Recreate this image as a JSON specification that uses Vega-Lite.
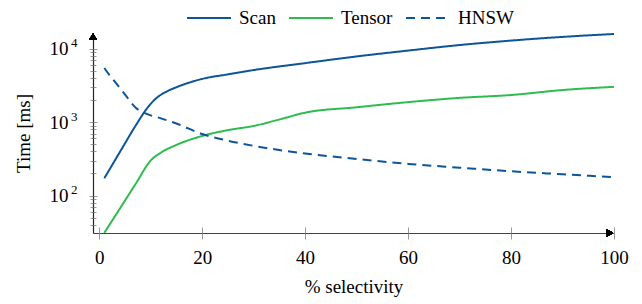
{
  "$schema": "https://vega.github.io/schema/vega-lite/v6.json",
  "width": 521,
  "height": 200,
  "autosize": "none",
  "padding": {"left": 93, "top": 33, "right": 28, "bottom": 71},
  "config": {
    "font": "Liberation Serif",
    "view": {"stroke": null},
    "axis": {"grid": false, "labelColor": "#000", "titleColor": "#000", "labelFont": "Liberation Serif", "titleFont": "Liberation Serif", "titleFontWeight": "normal"},
    "legend": {"labelFont": "Liberation Serif"}
  },
  "data": {"values": [
    {"x": 1, "series": "Scan", "t": 172},
    {"x": 4, "series": "Scan", "t": 390},
    {"x": 7, "series": "Scan", "t": 880},
    {"x": 9, "series": "Scan", "t": 1450},
    {"x": 10, "series": "Scan", "t": 1780},
    {"x": 11, "series": "Scan", "t": 2100},
    {"x": 13, "series": "Scan", "t": 2600},
    {"x": 15, "series": "Scan", "t": 3000},
    {"x": 20, "series": "Scan", "t": 3900},
    {"x": 25, "series": "Scan", "t": 4500},
    {"x": 30, "series": "Scan", "t": 5150},
    {"x": 40, "series": "Scan", "t": 6400},
    {"x": 50, "series": "Scan", "t": 7900},
    {"x": 60, "series": "Scan", "t": 9500},
    {"x": 70, "series": "Scan", "t": 11300},
    {"x": 80, "series": "Scan", "t": 13000},
    {"x": 90, "series": "Scan", "t": 14600},
    {"x": 100, "series": "Scan", "t": 16000},
    {"x": 1, "series": "Tensor", "t": 31},
    {"x": 4, "series": "Tensor", "t": 66},
    {"x": 7, "series": "Tensor", "t": 141},
    {"x": 10, "series": "Tensor", "t": 300},
    {"x": 12, "series": "Tensor", "t": 385},
    {"x": 15, "series": "Tensor", "t": 490},
    {"x": 20, "series": "Tensor", "t": 650},
    {"x": 25, "series": "Tensor", "t": 780},
    {"x": 30, "series": "Tensor", "t": 890},
    {"x": 35, "series": "Tensor", "t": 1090},
    {"x": 40, "series": "Tensor", "t": 1350},
    {"x": 50, "series": "Tensor", "t": 1600},
    {"x": 60, "series": "Tensor", "t": 1880},
    {"x": 70, "series": "Tensor", "t": 2150},
    {"x": 80, "series": "Tensor", "t": 2350},
    {"x": 90, "series": "Tensor", "t": 2750},
    {"x": 100, "series": "Tensor", "t": 3040},
    {"x": 1, "series": "HNSW", "t": 5500},
    {"x": 2, "series": "HNSW", "t": 4400},
    {"x": 3, "series": "HNSW", "t": 3600},
    {"x": 5, "series": "HNSW", "t": 2400},
    {"x": 7, "series": "HNSW", "t": 1600},
    {"x": 9, "series": "HNSW", "t": 1320},
    {"x": 12, "series": "HNSW", "t": 1130},
    {"x": 15, "series": "HNSW", "t": 960},
    {"x": 20, "series": "HNSW", "t": 690},
    {"x": 25, "series": "HNSW", "t": 560},
    {"x": 30, "series": "HNSW", "t": 476},
    {"x": 40, "series": "HNSW", "t": 375},
    {"x": 50, "series": "HNSW", "t": 315},
    {"x": 60, "series": "HNSW", "t": 270},
    {"x": 70, "series": "HNSW", "t": 240},
    {"x": 80, "series": "HNSW", "t": 214},
    {"x": 90, "series": "HNSW", "t": 195},
    {"x": 100, "series": "HNSW", "t": 178}
  ]},
  "layer": [
    {
      "mark": {"type": "line", "interpolate": "monotone", "strokeWidth": 2, "clip": true},
      "encoding": {
        "x": {
          "field": "x", "type": "quantitative",
          "scale": {"domain": [-1.2, 100], "nice": false, "zero": false},
          "axis": {
            "orient": "bottom",
            "values": [0, 20, 40, 60, 80, 100],
            "tickSize": 6, "tickColor": "#999", "tickWidth": 1,
            "domainColor": "#444", "domainWidth": 1.2,
            "labelFont": "Liberation Serif", "labelFontSize": 19, "labelPadding": 9, "labelFlush": false,
            "title": "% selectivity", "titleFont": "Liberation Serif", "titleFontSize": 19, "titlePadding": 10
          }
        },
        "y": {
          "field": "t", "type": "quantitative",
          "scale": {"type": "log", "domain": [30.8, 16500], "nice": false},
          "axis": {
            "orient": "left",
            "values": [40, 50, 60, 70, 80, 90, 100, 200, 300, 400, 500, 600, 700, 800, 900, 1000, 2000, 3000, 4000, 5000, 6000, 7000, 8000, 9000, 10000],
            "tickSize": {"condition": {"test": "datum.value == 100 || datum.value == 1000 || datum.value == 10000", "value": 4}, "value": 3},
            "tickColor": "#999", "tickWidth": 1,
            "domainColor": "#222", "domainWidth": 1.2,
            "labelExpr": "datum.value == 100 || datum.value == 1000 || datum.value == 10000 ? '10' : ''",
            "labelFont": "Liberation Serif", "labelFontSize": 19, "labelPadding": 21, "labelOverlap": false, "labelFlush": false, "labelBaseline": "middle",
            "title": "Time [ms]", "titleFont": "Liberation Serif", "titleFontSize": 19, "titlePadding": 16
          }
        },
        "color": {
          "field": "series", "type": "nominal",
          "scale": {"domain": ["Scan", "Tensor", "HNSW"], "range": ["#0d5599", "#2ebc4f", "#0d5599"]},
          "legend": {
            "orient": "none", "legendX": 93, "legendY": -38, "direction": "horizontal",
            "title": null, "symbolType": "stroke", "symbolSize": 1936, "symbolStrokeWidth": 2,
            "labelFont": "Liberation Serif", "labelFontSize": 19, "labelOffset": 7, "columnPadding": 9, "padding": 0, "labelColor": "#000"
          }
        },
        "strokeDash": {
          "field": "series", "type": "nominal",
          "scale": {"domain": ["Scan", "Tensor", "HNSW"], "range": [[1, 0], [1, 0], [9, 6]]},
          "legend": null
        }
      }
    },
    {
      "mark": {"type": "point", "opacity": 0},
      "encoding": {
        "x": {
          "field": "x", "type": "quantitative",
          "axis": {
            "orient": "bottom",
            "values": [0, 20, 40, 60, 80, 100],
            "tickSize": -6, "tickColor": "#999", "tickWidth": 1,
            "domain": false, "labels": false, "title": null
          }
        },
        "y": {
          "field": "t", "type": "quantitative",
          "axis": {
            "orient": "left",
            "values": [40, 50, 60, 70, 80, 90, 100, 200, 300, 400, 500, 600, 700, 800, 900, 1000, 2000, 3000, 4000, 5000, 6000, 7000, 8000, 9000, 10000],
            "tickSize": {"condition": {"test": "datum.value == 100 || datum.value == 1000 || datum.value == 10000", "value": -4}, "value": -3},
            "tickColor": "#999", "tickWidth": 1,
            "domain": false,
            "labelExpr": "datum.value == 100 ? '2' : datum.value == 1000 ? '3' : datum.value == 10000 ? '4' : ''",
            "labelFont": "Liberation Serif", "labelFontSize": 13, "labelPadding": 20, "labelOffset": -6, "labelOverlap": false, "labelFlush": false, "labelBaseline": "middle",
            "title": null
          }
        }
      }
    },
    {
      "mark": {"type": "point", "shape": "triangle-up", "filled": true, "fill": "#000", "stroke": "#000", "strokeWidth": 0, "size": 55, "opacity": 1},
      "encoding": {
        "x": {"datum": -1.2, "type": "quantitative", "axis": null},
        "y": {"datum": 14800, "type": "quantitative", "axis": null}
      }
    },
    {
      "mark": {"type": "point", "shape": "triangle-right", "filled": true, "fill": "#000", "stroke": "#000", "strokeWidth": 0, "size": 55, "opacity": 1},
      "encoding": {
        "x": {"datum": 99.2, "type": "quantitative", "axis": null},
        "y": {"datum": 30.8, "type": "quantitative", "axis": null}
      }
    }
  ],
  "resolve": {"axis": {"x": "independent", "y": "independent"}}
}
